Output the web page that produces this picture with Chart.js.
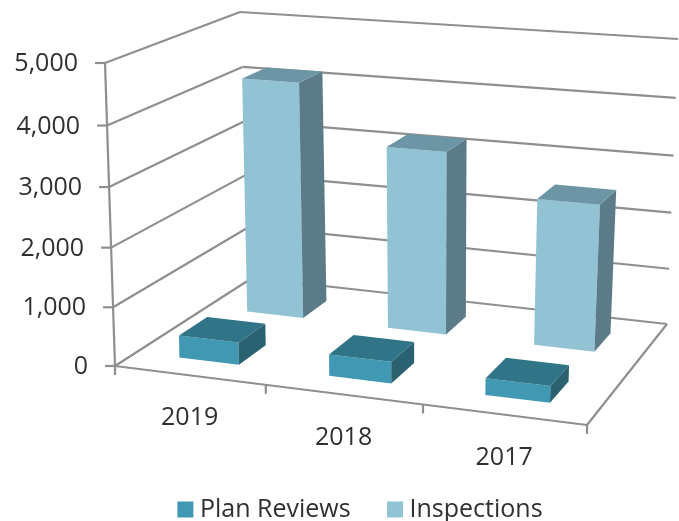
<!DOCTYPE html>
<html>
<head>
<meta charset="utf-8">
<script src="https://cdn.jsdelivr.net/npm/chart.js@4"></script>
<style>
  body { margin: 0; background: #fff; }
  canvas { display: block; }
</style>
</head>
<body>
<canvas id="miGrafica" width="679" height="521"></canvas>
<script>
const years = ["2019", "2018", "2017"];
const seriesNames = ["Plan Reviews", "Inspections"];
const planReviews = [380, 362, 275];
const inspections = [4190, 3200, 2530];
const valueMax = 5000;
const valueStep = 1000;

const chartFont = '"Open Sans", sans-serif';
const textColor = "#303030";
const gridColor = "#8f8f8f";

// corners of the 3D box on screen: front left, front right, back right, back left
const floorQuad = [[115, 366], [587, 425], [667, 324], [252, 278]];
const roofQuad = [[105, 63], [596, 100], [678, 39], [240, 12]];
// the bars lean a bit less than the walls
const barRoofQuad = roofQuad.map(p => [p[0] + 5, p[1]]);
const heightPersp = 0.04;

// colours of the faces for each series
const faces = [
    { front: "#4098b3", top: "#307488", side: "#2a6272" },
    { front: "#92c3d5", top: "#6c95a6", side: "#5b7b88" }
];
const barWidth = 0.134; // along the category axis, 0..1
const barDepth = 0.2;   // along the depth axis, 0..1

// unit square -> quad (perspective)
function squareToQuad(q) {
    let sx = q[0][0] - q[1][0] + q[2][0] - q[3][0];
    let sy = q[0][1] - q[1][1] + q[2][1] - q[3][1];
    let dx1 = q[1][0] - q[2][0], dx2 = q[3][0] - q[2][0];
    let dy1 = q[1][1] - q[2][1], dy2 = q[3][1] - q[2][1];
    let det = dx1 * dy2 - dx2 * dy1;
    let g = (sx * dy2 - dx2 * sy) / det;
    let h = (dx1 * sy - sx * dy1) / det;
    return function (u, d) {
        let w = g * u + h * d + 1;
        return [
            ((q[1][0] - q[0][0] + g * q[1][0]) * u + (q[3][0] - q[0][0] + h * q[3][0]) * d + q[0][0]) / w,
            ((q[1][1] - q[0][1] + g * q[1][1]) * u + (q[3][1] - q[0][1] + h * q[3][1]) * d + q[0][1]) / w
        ];
    };
}
const floorAt = squareToQuad(floorQuad);
const roofAt = squareToQuad(roofQuad);
const barRoofAt = squareToQuad(barRoofQuad);

function project(u, v, d, top) {
    let a = floorAt(u, d), b = (top || roofAt)(u, d);
    let t = v / (1 + heightPersp * (1 - v));
    return [a[0] + (b[0] - a[0]) * t, a[1] + (b[1] - a[1]) * t];
}

function line(ctx, a, b) {
    ctx.beginPath();
    ctx.moveTo(a[0], a[1]);
    ctx.lineTo(b[0], b[1]);
    ctx.stroke();
}

function poly(ctx, pts, color) {
    ctx.fillStyle = color;
    ctx.beginPath();
    pts.forEach((p, i) => i ? ctx.lineTo(p[0], p[1]) : ctx.moveTo(p[0], p[1]));
    ctx.closePath();
    ctx.fill();
}

const box3d = {
    id: "box3d",
    beforeDatasetsDraw(chart) {
        const ctx = chart.ctx;
        const sx = chart.scales.x, sy = chart.scales.y, sz = chart.scales.z;
        const toU = i => (sx.getPixelForValue(i) - sx.left) / sx.width;
        const toV = val => (sy.bottom - sy.getPixelForValue(val)) / sy.height;
        const toD = i => (sz.getPixelForValue(i) - sz.left) / sz.width;
        const catW = 1 / years.length;

        ctx.save();
        ctx.strokeStyle = gridColor;
        ctx.lineWidth = 2.2;

        // gridlines on left and back walls, ticks and value labels
        ctx.font = "25px " + chartFont;
        ctx.fillStyle = textColor;
        ctx.textAlign = "right";
        ctx.textBaseline = "middle";
        sy.ticks.forEach(t => {
            let v = toV(t.value);
            let p = project(0, v, 0);
            line(ctx, [p[0] - 10, p[1]], p);
            line(ctx, p, project(0, v, 1));
            line(ctx, project(0, v, 1), project(1, v, 1));
            ctx.fillText(t.label, p[0] - 27, p[1] + 1);
        });
        line(ctx, project(0, 0, 0), project(0, 1, 0));

        // floor edges
        line(ctx, project(0, 0, 0), project(1, 0, 0));
        line(ctx, project(1, 0, 0), project(1, 0, 1));

        // category ticks and labels
        ctx.textAlign = "center";
        for (let i = 0; i <= years.length; i++) {
            let p = project(i * catW, 0, 0);
            line(ctx, p, [p[0], p[1] + 9]);
        }
        years.forEach((y, i) => {
            let p = project(toU(i), 0, 0);
            ctx.fillText(y, p[0], p[1] + 43);
        });

        // bars, back row first
        for (let s = chart.data.datasets.length - 1; s >= 0; s--) {
            let d0 = toD(s) - barDepth / 2 - 0.01, d1 = d0 + barDepth;
            chart.data.datasets[s].data.forEach((val, i) => {
                let u0 = toU(i) - barWidth / 2 - 0.002, u1 = u0 + barWidth;
                let v = toV(val);
                let P = (u, h, d) => project(u, h, d, barRoofAt);
                poly(ctx, [P(u0, 0, d0), P(u1, 0, d0), P(u1, v, d0), P(u0, v, d0)], faces[s].front);
                poly(ctx, [P(u1, 0, d0), P(u1, 0, d1), P(u1, v, d1), P(u1, v, d0)], faces[s].side);
                poly(ctx, [P(u0, v, d0), P(u1, v, d0), P(u1, v, d1), P(u0, v, d1)], faces[s].top);
            });
        }
        ctx.restore();
        return false;
    }
};

new Chart(document.getElementById("miGrafica").getContext("2d"), {
    type: "bar",
    data: {
        labels: years,
        datasets: [
            // thick border on a small box: legend text sits closer to the swatch this way
            { label: seriesNames[0], data: planReviews, backgroundColor: faces[0].front, borderColor: faces[0].front, borderWidth: 12 },
            { label: seriesNames[1], data: inspections, backgroundColor: faces[1].front, borderColor: faces[1].front, borderWidth: 12 }
        ]
    },
    options: {
        responsive: false,
        animation: false,
        layout: { padding: { left: 47, bottom: -11 } },
        scales: {
            x: { display: false, offset: true },
            y: {
                display: false,
                min: 0,
                max: valueMax,
                ticks: { stepSize: valueStep, callback: val => val.toLocaleString("en-US") }
            },
            z: { display: false, type: "category", axis: "x", offset: true, labels: seriesNames }
        },
        plugins: {
            tooltip: { enabled: false },
            legend: {
                position: "bottom",
                labels: {
                    boxWidth: 4,
                    boxHeight: 4,
                    padding: 42.5,
                    color: textColor,
                    font: { family: chartFont, size: 25 }
                }
            }
        }
    },
    plugins: [box3d]
});
</script>
</body>
</html>
